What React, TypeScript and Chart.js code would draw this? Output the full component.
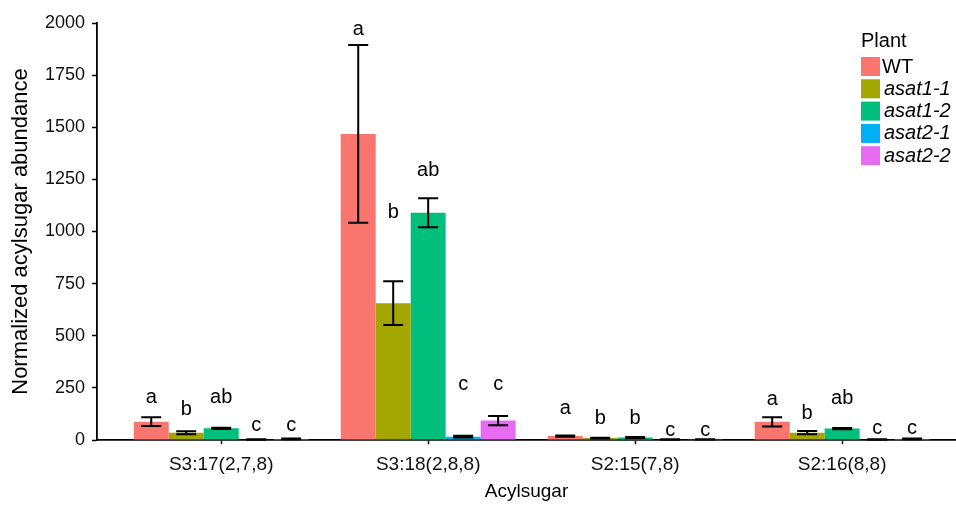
import React, { useEffect, useRef } from "react";
import { Chart, registerables } from "chart.js";

Chart.register(...registerables);

const categories = ["S3:17(2,7,8)", "S3:18(2,8,8)", "S2:15(7,8)", "S2:16(8,8)"];
const seriesNames = ["WT", "asat1-1", "asat1-2", "asat2-1", "asat2-2"];
const colors = ["#F8766D", "#A3A500", "#00BF7D", "#00B0F6", "#E76BF3"];

const wtValues = [88, 1468, 19, 87];
const asat11Values = [35, 656, 9, 35];
const asat12Values = [56, 1090, 12, 55];
const asat21Values = [2, 16, 2, 2];
const asat22Values = [5, 93, 3, 5];

const wtSE = [21, 426, 3, 22];
const asat11SE = [7, 105, 2, 8];
const asat12SE = [3, 70, 2, 3];
const asat21SE = [1, 4, 1, 1];
const asat22SE = [2, 22, 1, 2];

const wtLetters = ["a", "a", "a", "a"];
const asat11Letters = ["b", "b", "b", "b"];
const asat12Letters = ["ab", "ab", "b", "ab"];
const asat21Letters = ["c", "c", "c", "c"];
const asat22Letters = ["c", "c", "c", "c"];

const wtLetterY = [205, 1970, 152, 192];
const asat11LetterY = [144, 1089, 104, 128];
const asat12LetterY = [206, 1295, 104, 200];
const asat21LetterY = [72, 264, 45, 56];
const asat22LetterY = [72, 264, 45, 56];

const yTicks = [0, 250, 500, 750, 1000, 1250, 1500, 1750, 2000];

const allValues = [wtValues, asat11Values, asat12Values, asat21Values, asat22Values];
const allSE = [wtSE, asat11SE, asat12SE, asat21SE, asat22SE];
const allLetters = [wtLetters, asat11Letters, asat12Letters, asat21Letters, asat22Letters];
const allLetterY = [wtLetterY, asat11LetterY, asat12LetterY, asat21LetterY, asat22LetterY];

const FONT = "'Liberation Sans', Arial, sans-serif";

const errPlugin = {
  id: "errbars",
  afterDatasetsDraw(chart: any) {
    const ctx = chart.ctx;
    const ys = chart.scales.y;
    ctx.save();
    chart.data.datasets.forEach((ds: any, i: number) => {
      const meta = chart.getDatasetMeta(i);
      meta.data.forEach((bar: any, j: number) => {
        const m = allValues[i][j];
        const se = allSE[i][j];
        const x = bar.x;
        const top = ys.getPixelForValue(m + se);
        const bot = ys.getPixelForValue(Math.max(0, m - se));
        ctx.strokeStyle = "#000";
        ctx.lineWidth = 2;
        ctx.beginPath();
        ctx.moveTo(x, top);
        ctx.lineTo(x, bot);
        ctx.moveTo(x - 10, top);
        ctx.lineTo(x + 10, top);
        ctx.moveTo(x - 10, bot);
        ctx.lineTo(x + 10, bot);
        ctx.stroke();
        ctx.fillStyle = "#000";
        ctx.font = `20px ${FONT}`;
        ctx.textAlign = "center";
        ctx.textBaseline = "middle";
        ctx.fillText(allLetters[i][j], x, ys.getPixelForValue(allLetterY[i][j]));
      });
    });
    ctx.restore();
  },
};

const legendPlugin = {
  id: "customLegend",
  afterDraw(chart: any) {
    const ctx = chart.ctx;
    ctx.save();
    ctx.fillStyle = "#000";
    ctx.font = `20px ${FONT}`;
    ctx.textAlign = "left";
    ctx.textBaseline = "alphabetic";
    ctx.fillText("Plant", 861, 47);
    seriesNames.forEach((name, i) => {
      const top = 57 + i * 22.3;
      ctx.fillStyle = colors[i];
      ctx.fillRect(861, top, 19, 19);
      ctx.fillStyle = "#000";
      ctx.font = `${i === 0 ? "" : "italic "}20px ${FONT}`;
      ctx.textBaseline = "middle";
      ctx.fillText(name, i === 0 ? 882 : 884, top + 10);
    });
    ctx.restore();
  },
};

export default function App() {
  const ref = useRef<HTMLCanvasElement>(null);
  useEffect(() => {
    document.body.style.margin = "0";
    const chart = new Chart(ref.current!, {
      type: "bar",
      data: {
        datasets: seriesNames.map((name, i) => ({
          label: name,
          data: allValues[i].map((v, j) => ({ x: j + 1, y: v })),
          backgroundColor: colors[i],
          borderWidth: 0,
          categoryPercentage: 0.845,
          barPercentage: 1,
        })),
      },
      options: {
        animation: false,
        responsive: false,
        layout: { padding: { top: 23, right: 0, left: 0, bottom: 0 } },
        plugins: { legend: { display: false }, tooltip: { enabled: false } },
        scales: {
          x: {
            type: "linear",
            min: 0.4,
            max: 4.55,
            offset: false,
            afterFit: (s: any) => {
              s.height = 65;
            },
            afterBuildTicks: (s: any) => {
              s.ticks = categories.map((_, i) => ({ value: i + 1 }));
            },
            ticks: {
              autoSkip: false,
              maxRotation: 0,
              padding: 9,
              color: "#111",
              font: { family: FONT, size: 19 },
              callback: (v: any) => categories[Math.round(v) - 1] ?? "",
            },
            grid: { display: true, offset: false, drawOnChartArea: false, drawTicks: true, tickLength: 4, tickColor: "#000", tickWidth: 1.5 },
            border: { display: true, color: "#000", width: 1.8 },
            title: {
              display: true,
              text: "Acylsugar",
              color: "#000",
              font: { family: FONT, size: 19 },
              padding: { top: 0, bottom: 2 },
            },
          },
          y: {
            min: 0,
            max: 2000,
            afterFit: (s: any) => {
              s.width = 97;
            },
            afterBuildTicks: (s: any) => {
              s.ticks = yTicks.map((v) => ({ value: v }));
            },
            ticks: {
              padding: 7,
              color: "#111",
              font: { family: FONT, size: 18 },
              callback: (v: any) => String(v),
            },
            grid: { display: true, offset: false, drawOnChartArea: false, drawTicks: true, tickLength: 5, tickColor: "#000", tickWidth: 1.5 },
            border: { display: true, color: "#000", width: 1.8 },
            title: {
              display: true,
              text: "Normalized acylsugar abundance",
              color: "#000",
              font: { family: FONT, size: 22 },
              padding: { top: 8, bottom: 0 },
            },
          },
        },
      },
      plugins: [errPlugin, legendPlugin],
    });
    return () => chart.destroy();
  }, []);
  return (
    <div style={{ position: "fixed", left: 0, top: 0, width: 956, height: 505, background: "#fff" }}>
      <canvas ref={ref} width={956} height={505} />
    </div>
  );
}
